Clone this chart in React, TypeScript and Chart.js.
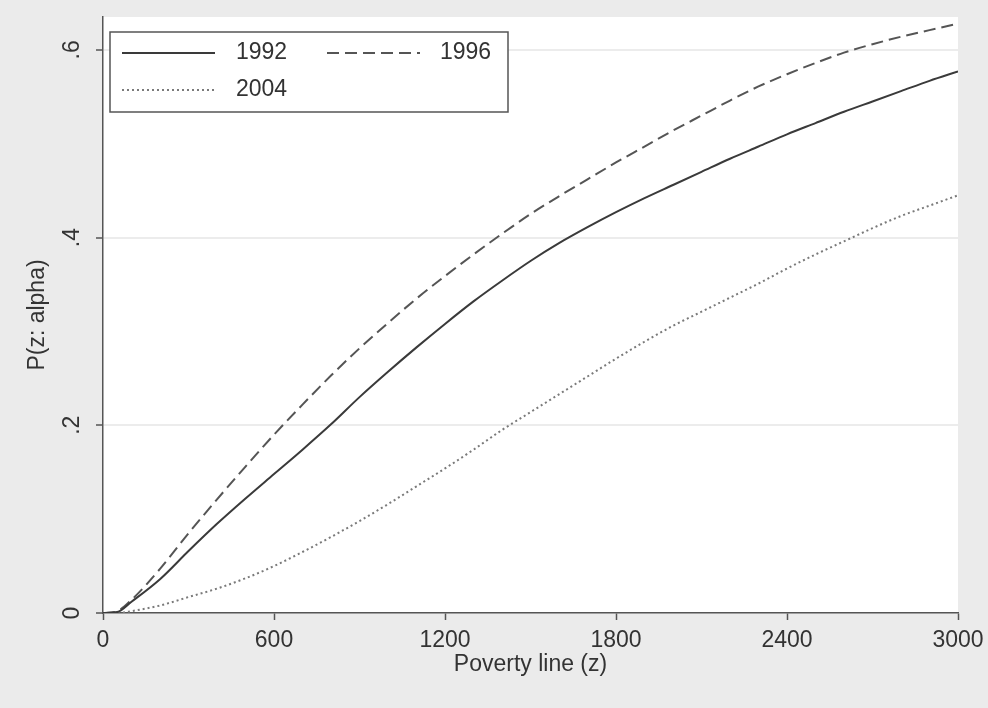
import React, { useEffect, useRef } from 'react';
import { Chart, registerables } from 'chart.js';

Chart.register(...registerables);

// Poverty line z (x values)
const povertyLine = [0, 50, 100, 200, 300, 400, 500, 600, 700, 800, 900, 1000, 1100, 1200, 1300, 1400, 1500, 1600, 1700, 1800, 1900, 2000, 2100, 2200, 2300, 2400, 2500, 2600, 2700, 2800, 2900, 3000];

// P(z: alpha) per year
const p1992 = [0, 0.001, 0.012, 0.036, 0.066, 0.095, 0.122, 0.148, 0.174, 0.201, 0.230, 0.257, 0.283, 0.308, 0.332, 0.354, 0.375, 0.394, 0.411, 0.427, 0.442, 0.456, 0.470, 0.484, 0.497, 0.510, 0.522, 0.534, 0.545, 0.556, 0.567, 0.577];
const p1996 = [0, 0.002, 0.014, 0.047, 0.085, 0.121, 0.156, 0.190, 0.222, 0.253, 0.282, 0.309, 0.335, 0.359, 0.382, 0.404, 0.425, 0.444, 0.462, 0.480, 0.497, 0.514, 0.530, 0.546, 0.561, 0.574, 0.586, 0.597, 0.606, 0.614, 0.621, 0.628];
const p2004 = [0, 0, 0.002, 0.008, 0.017, 0.026, 0.037, 0.050, 0.065, 0.081, 0.098, 0.116, 0.135, 0.154, 0.174, 0.195, 0.214, 0.233, 0.252, 0.271, 0.289, 0.306, 0.321, 0.336, 0.351, 0.367, 0.382, 0.396, 0.410, 0.423, 0.434, 0.445];

const seriesLabels = ['1992', '1996', '2004'];
const xTickValues = [0, 600, 1200, 1800, 2400, 3000];
const yTickValues = [0, 0.2, 0.4, 0.6];

const FONT = "'Liberation Sans', Arial, Helvetica, sans-serif";
const TEXT = '#333333';
const AXIS = '#555555';

export default function App() {
  const ref = useRef<HTMLCanvasElement>(null);

  useEffect(() => {
    const canvas = ref.current;
    if (!canvas) return;

    const bgPlugin = {
      id: 'stataBackground',
      beforeDraw(chart: any) {
        const { ctx, chartArea: a, width, height } = chart;
        ctx.save();
        ctx.fillStyle = '#ebebeb';
        ctx.fillRect(0, 0, width, height);
        ctx.fillStyle = '#ffffff';
        ctx.fillRect(a.left, a.top, a.right - a.left, a.bottom - a.top);
        ctx.restore();
      },
    };

    const legendPlugin = {
      id: 'stataLegend',
      afterDatasetsDraw(chart: any) {
        const { ctx, chartArea: a } = chart;
        const ds = chart.data.datasets;
        const bx = a.left + 7;
        const by = a.top + 15;
        const bw = 398;
        const bh = 80;
        ctx.save();
        ctx.fillStyle = '#ffffff';
        ctx.fillRect(bx, by, bw, bh);
        ctx.strokeStyle = AXIS;
        ctx.lineWidth = 1.5;
        ctx.strokeRect(bx, by, bw, bh);
        const cols = [
          { lx: bx + 12, lw: 93, tx: bx + 126 },
          { lx: bx + 217, lw: 93, tx: bx + 330 },
        ];
        const rows = [by + 21, by + 58];
        ds.forEach((d: any, i: number) => {
          const c = cols[i % 2];
          const r = rows[Math.floor(i / 2)];
          ctx.strokeStyle = d.borderColor;
          ctx.lineWidth = d.borderWidth;
          ctx.setLineDash(d.borderDash || []);
          ctx.beginPath();
          ctx.moveTo(c.lx, r);
          ctx.lineTo(c.lx + c.lw, r);
          ctx.stroke();
          ctx.setLineDash([]);
          ctx.fillStyle = TEXT;
          ctx.font = `23px ${FONT}`;
          ctx.textBaseline = 'middle';
          ctx.textAlign = 'left';
          ctx.fillText(d.label, c.tx, r);
        });
        ctx.restore();
      },
    };

    const mk = (ys: number[]) => povertyLine.map((x, i) => ({ x, y: ys[i] }));

    const chart = new Chart(canvas, {
      type: 'line',
      data: {
        datasets: [
          {
            label: seriesLabels[0],
            data: mk(p1992),
            borderColor: '#3a3a3a',
            borderWidth: 2,
            pointRadius: 0,
            cubicInterpolationMode: 'monotone',
            fill: false,
          },
          {
            label: seriesLabels[1],
            data: mk(p1996),
            borderColor: '#555555',
            borderWidth: 2,
            borderDash: [12, 6],
            pointRadius: 0,
            cubicInterpolationMode: 'monotone',
            fill: false,
          },
          {
            label: seriesLabels[2],
            data: mk(p2004),
            borderColor: '#7a7a7a',
            borderWidth: 2,
            borderDash: [2, 3],
            pointRadius: 0,
            cubicInterpolationMode: 'monotone',
            fill: false,
          },
        ],
      },
      options: {
        responsive: false,
        animation: false,
        devicePixelRatio: 1,
        layout: { padding: { left: 0, right: 30, top: 17, bottom: 0 } },
        plugins: {
          legend: { display: false },
          tooltip: { enabled: false },
        },
        scales: {
          x: {
            type: 'linear',
            min: 0,
            max: 3000,
            afterFit: (s: any) => {
              s.height = 95;
              s.paddingLeft = 0;
              s.paddingRight = 0;
            },
            afterBuildTicks: (s: any) => {
              s.ticks = xTickValues.map((v) => ({ value: v }));
            },
            grid: {
              drawOnChartArea: false,
              tickLength: 7,
              tickColor: AXIS,
              tickWidth: 1.5,
            },
            border: { color: AXIS, width: 1.5 },
            ticks: {
              font: { family: FONT, size: 23 },
              color: TEXT,
              padding: 7,
              maxRotation: 0,
              minRotation: 0,
              autoSkip: false,
              callback: (v: any) => String(v),
            },
            title: {
              display: true,
              text: 'Poverty line (z)',
              font: { family: FONT, size: 23 },
              color: TEXT,
              padding: { top: 0, bottom: 30 },
            },
          },
          y: {
            type: 'linear',
            min: 0,
            max: 0.635,
            afterFit: (s: any) => {
              s.width = 103;
              s.paddingTop = 0;
              s.paddingBottom = 0;
            },
            afterBuildTicks: (s: any) => {
              s.ticks = yTickValues.map((v) => ({ value: v }));
            },
            grid: {
              color: (c: any) => (c.tick && c.tick.value === 0 ? 'rgba(0,0,0,0)' : '#ececec'),
              lineWidth: 2,
              tickLength: 7,
              tickColor: AXIS,
              tickWidth: 1.5,
            },
            border: { color: AXIS, width: 1.5 },
            ticks: {
              font: { family: FONT, size: 23 },
              color: TEXT,
              padding: 14,
              minRotation: 90,
              maxRotation: 90,
              crossAlign: 'center',
              autoSkip: false,
              callback: (v: any) => (v === 0 ? '0' : Number(v).toFixed(1).replace(/^0/, '')),
            },
            title: {
              display: true,
              text: 'P(z: alpha)',
              font: { family: FONT, size: 23 },
              color: TEXT,
              padding: { top: 24, bottom: 0 },
            },
          },
        },
      },
      plugins: [bgPlugin, legendPlugin],
    } as any);

    return () => {
      chart.destroy();
    };
  }, []);

  return (
    <div style={{ position: 'fixed', left: 0, top: 0, width: 988, height: 708 }}>
      <canvas ref={ref} width={988} height={708} style={{ width: 988, height: 708, display: 'block' }} />
    </div>
  );
}
